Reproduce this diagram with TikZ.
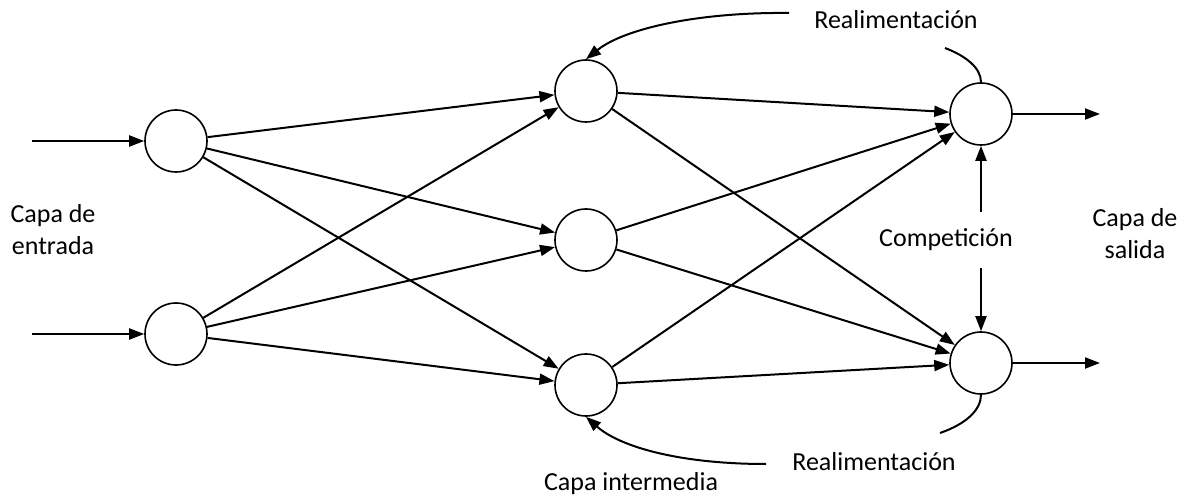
\documentclass[tikz,border=0pt]{standalone}
\usepackage{fontspec}
\setmainfont{Carlito}
\usetikzlibrary{arrows.meta}
\begin{document}
\begin{tikzpicture}[x=1pt,y=-1pt,
  neuron/.style={circle,draw,line width=1.6pt,minimum size=62pt,inner sep=0pt},
  conn/.style={line width=2pt,-{Triangle[length=15pt,width=11pt]}},
  plain/.style={line width=2pt},
  lbl/.style={inner sep=0pt,align=center,font=\fontsize{26}{32}\selectfont}]
\useasboundingbox (0,0) rectangle (1187,497);

% neurons
\node[neuron] (I1) at (176,141) {};
\node[neuron] (I2) at (176,334) {};
\node[neuron] (H1) at (586,91) {};
\node[neuron] (H2) at (586,240) {};
\node[neuron] (H3) at (586,385) {};
\node[neuron] (O1) at (981,114) {};
\node[neuron] (O2) at (981,363) {};

% external inputs and outputs
\coordinate (in1) at (32,141);
\coordinate (in2) at (32,334);
\coordinate (out1) at (1100,114);
\coordinate (out2) at (1100,363);
\draw[conn] (in1) -- (I1);
\draw[conn] (in2) -- (I2);
\draw[conn] (O1) -- (out1);
\draw[conn] (O2) -- (out2);

% input -> hidden
\foreach \i in {I1,I2}
  \foreach \h in {H1,H2,H3}
    \draw[conn] (\i) -- (\h);
% hidden -> output
\foreach \h in {H1,H2,H3}
  \foreach \o in {O1,O2}
    \draw[conn] (\h) -- (\o);

% labels
\node[lbl] (lin) at (53,230) {Capa de\\entrada};
\node[lbl] (lout) at (1135,234) {Capa de\\salida};
\node[lbl] (lmid) at (631,484) {Capa intermedia};
\node[lbl] (comp) at (946,240) {Competición};
\node[lbl] (fbtop) at (896,20) {Realimentación};
\node[lbl] (fbbot) at (874,462) {Realimentación};

% competition
\coordinate (c1) at (981,212);
\coordinate (c2) at (981,268);
\draw[conn] (c1) -- (O1);
\draw[conn] (c2) -- (O2);

% feedback
\coordinate (ft) at (789,13);
\coordinate (fb) at (766,464);
\coordinate (at) at (945,48);
\coordinate (ab) at (940,433);
\draw[conn] (ft) .. controls (700,12) and (625,28) .. (H1.north);
\draw[plain] (at) .. controls (966,56) and (981,68) .. (O1.north);
\draw[conn] (fb) .. controls (680,464) and (620,447) .. (H3.south);
\draw[plain] (O2.south) .. controls (981,410) and (966,424) .. (ab);
\end{tikzpicture}
\end{document}
